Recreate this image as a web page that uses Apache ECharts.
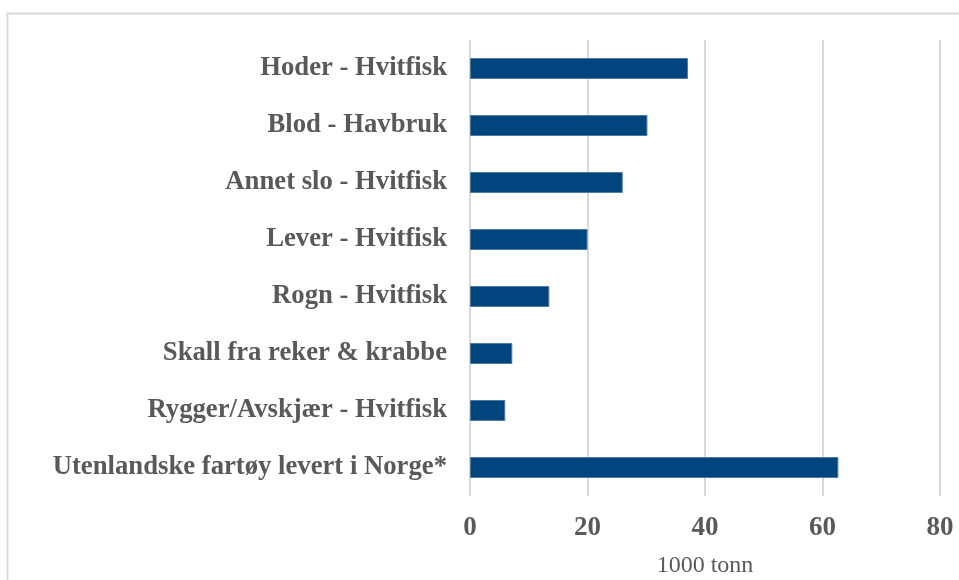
<!DOCTYPE html>
<html>
<head>
<meta charset="utf-8">
<script src="https://cdn.jsdelivr.net/npm/echarts@6/dist/echarts.min.js"></script>
<style>
  html, body { margin: 0; padding: 0; background: #fff; }
  #chart { width: 959px; height: 580px; }
</style>
</head>
<body>
<div id="chart"></div>
<script>
// kategorier nedenfra og opp (slik echarts tegner y-aksen)
const categories = [
  "Utenlandske fartøy levert i Norge*",
  "Rygger/Avskjær - Hvitfisk",
  "Skall fra reker & krabbe",
  "Rogn - Hvitfisk",
  "Lever - Hvitfisk",
  "Annet slo - Hvitfisk",
  "Blod - Havbruk",
  "Hoder - Hvitfisk"
];
const values = [62.7, 6.0, 7.2, 13.5, 20.0, 26.0, 30.2, 37.1]; // 1000 tonn
const xTicks = [0, 20, 40, 60, 80];

const chart = echarts.init(document.getElementById("chart"));
const font = "'Liberation Serif', 'Times New Roman', serif";

chart.setOption({
  animation: false,
  graphic: [
    {
      type: "rect",
      left: 5,
      top: 11,
      shape: { width: 1000, height: 1000 },
      style: { fill: "none", stroke: "#d9d9d9", lineWidth: 2 }
    }
  ],
  grid: {
    left: 470,
    right: 19,
    top: 40,
    bottom: 84,
    outerBoundsMode: "none"
  },
  xAxis: {
    type: "value",
    min: xTicks[0],
    max: xTicks[xTicks.length - 1],
    interval: 20,
    name: "1000 tonn",
    nameLocation: "middle",
    nameGap: 58,
    nameTextStyle: { fontFamily: font, fontSize: 24, color: "#595959" },
    axisLine: { show: false },
    axisTick: { show: false },
    axisLabel: {
      fontFamily: font,
      fontSize: 27,
      fontWeight: "bold",
      color: "#595959",
      margin: 19
    },
    splitLine: { lineStyle: { color: "#d9d9d9", width: 2 } }
  },
  yAxis: {
    type: "category",
    data: categories,
    axisLine: { show: false },
    axisTick: { show: false },
    axisLabel: {
      fontFamily: font,
      fontSize: 26.7,
      fontWeight: "bold",
      color: "#595959",
      margin: 23
    }
  },
  series: [
    {
      type: "bar",
      data: values,
      barWidth: 21,
      itemStyle: {
        color: "#00457d",
        borderColor: "#4f78a3",
        borderWidth: 1
      }
    }
  ]
});
</script>
</body>
</html>
